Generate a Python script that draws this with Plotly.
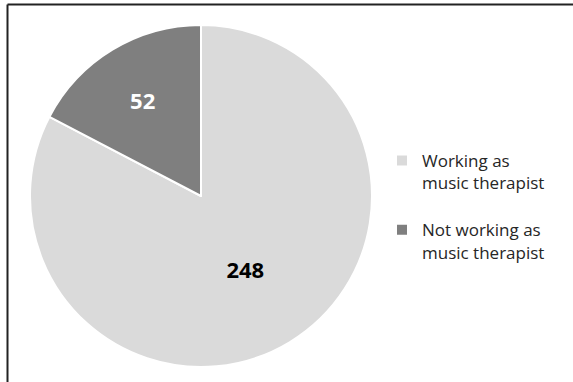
import plotly.graph_objects as go

labels = ["Working as<br>music therapist", "Not working as<br>music therapist"]
values = [248, 52]
colors = ["#DADADA", "#7F7F7F"]
text_colors = ["#000000", "#FFFFFF"]

W, H = 573, 382

# add blank spacer line after every legend entry except the last (legend gap)
legend_labels = [lab + ("<br> " if i < len(labels) - 1 else "") for i, lab in enumerate(labels)]

fig = go.Figure(go.Pie(
    labels=legend_labels,
    values=values,
    sort=False,
    direction="clockwise",
    rotation=0,
    marker=dict(colors=colors, line=dict(color="#FFFFFF", width=2)),
    textinfo="value",
    textposition="inside",
    insidetextorientation="horizontal",
    textfont=dict(family="Open Sans", size=22, color=text_colors, weight="bold"),
    domain=dict(x=[30 / W, 372 / W], y=[1 - 367 / H, 1 - 25 / H]),
    hoverinfo="label+value",
))

fig.update_layout(
    width=W, height=H,
    margin=dict(l=0, r=0, t=0, b=0),
    paper_bgcolor="#FFFFFF",
    plot_bgcolor="#FFFFFF",
    showlegend=True,
    legend=dict(
        x=382 / W, y=1 - 143 / H, xanchor="left", yanchor="top",
        valign="top",
        font=dict(family="Open Sans", size=17, color="#262626"),
        tracegroupgap=0,
    ),
    shapes=[
        dict(type="line", xref="paper", yref="paper", x0=7.5 / W, x1=1, y0=1 - 4.5 / H, y1=1 - 4.5 / H,
             line=dict(color="#222222", width=2)),
        dict(type="line", xref="paper", yref="paper", x0=7.5 / W, x1=7.5 / W, y0=0, y1=1 - 4.5 / H,
             line=dict(color="#222222", width=2)),
    ],
)

fig.write_html("out.html")
